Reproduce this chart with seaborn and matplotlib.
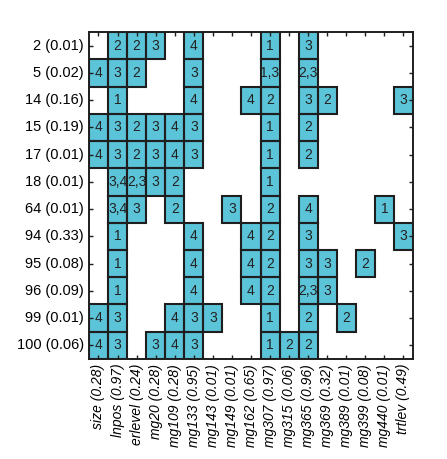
import numpy as np
import pandas as pd
import matplotlib
matplotlib.use('Agg')
import matplotlib.pyplot as plt
from matplotlib.colors import ListedColormap
from matplotlib.patches import Rectangle
import seaborn as sns

# row / column labels
row_labels = ['2 (0.01)', '5 (0.02)', '14 (0.16)', '15 (0.19)', '17 (0.01)', '18 (0.01)',
              '64 (0.01)', '94 (0.33)', '95 (0.08)', '96 (0.09)', '99 (0.01)', '100 (0.06)']
col_labels = ['size (0.28)', 'lnpos (0.97)', 'erlevel (0.24)', 'mg20 (0.28)', 'mg109 (0.28)',
              'mg133 (0.95)', 'mg143 (0.01)', 'mg149 (0.01)', 'mg162 (0.65)', 'mg307 (0.97)',
              'mg315 (0.06)', 'mg365 (0.96)', 'mg369 (0.32)', 'mg389 (0.01)', 'mg399 (0.08)',
              'mg440 (0.01)', 'trtlev (0.49)']

# cell texts, '' = empty cell
r2 = ['', '2', '2', '3', '', '4', '', '', '', '1', '', '3', '', '', '', '', '']
r5 = ['4', '3', '2', '', '', '3', '', '', '', '1,3', '', '2,3', '', '', '', '', '']
r14 = ['', '1', '', '', '', '4', '', '', '4', '2', '', '3', '2', '', '', '', '3']
r15 = ['4', '3', '2', '3', '4', '3', '', '', '', '1', '', '2', '', '', '', '', '']
r17 = ['4', '3', '2', '3', '4', '3', '', '', '', '1', '', '2', '', '', '', '', '']
r18 = ['', '3,4', '2,3', '3', '2', '', '', '', '', '1', '', '', '', '', '', '', '']
r64 = ['', '3,4', '3', '', '2', '', '', '3', '', '2', '', '4', '', '', '', '1', '']
r94 = ['', '1', '', '', '', '4', '', '', '4', '2', '', '3', '', '', '', '', '3']
r95 = ['', '1', '', '', '', '4', '', '', '4', '2', '', '3', '3', '', '2', '', '']
r96 = ['', '1', '', '', '', '4', '', '', '4', '2', '', '2,3', '3', '', '', '', '']
r99 = ['4', '3', '', '', '4', '3', '3', '', '', '1', '', '2', '', '2', '', '', '']
r100 = ['4', '3', '', '3', '4', '3', '', '', '', '1', '2', '2', '', '', '', '', '']

labels = pd.DataFrame([r2, r5, r14, r15, r17, r18, r64, r94, r95, r96, r99, r100],
                      index=row_labels, columns=col_labels)
empty = (labels == '').values
filled = (~empty).astype(float)

plt.rcParams['font.family'] = ['Liberation Sans', 'DejaVu Sans']

fig = plt.figure(figsize=(4.47, 4.59), dpi=100)
ax = fig.add_axes([0.199, 0.218, 0.725, 0.712])

sns.heatmap(pd.DataFrame(filled, index=row_labels, columns=col_labels), mask=empty,
            cmap=ListedColormap(['#5cc4d9']), annot=labels.values, fmt='', cbar=False,
            linewidths=0, annot_kws={'fontsize': 10, 'color': '#222222'}, ax=ax)

# black outline only around filled cells
for i, j in zip(*np.nonzero(~empty)):
    ax.add_patch(Rectangle((j, i), 1, 1, fill=False, edgecolor='#1e1e1e', lw=1.5))

for s in ax.spines.values():
    s.set_visible(True)
    s.set_linewidth(1.4)
    s.set_color('#1e1e1e')

ax.tick_params(axis='both', direction='in', length=3, width=1, color='#1e1e1e',
               top=True, right=True)
ax.set_yticklabels(row_labels, rotation=0, fontsize=10.5)
ax.set_xticklabels(col_labels, rotation=90, fontstyle='italic', fontsize=10)
ax.set_xlabel('')
ax.set_ylabel('')

fig.savefig('out.png', dpi=100)
